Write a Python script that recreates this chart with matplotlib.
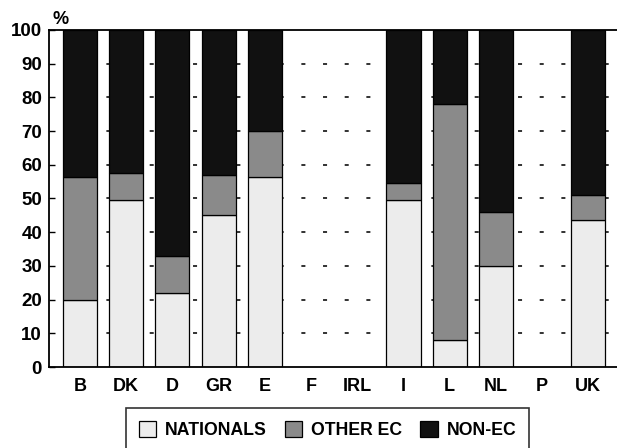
import numpy as np
import matplotlib
matplotlib.use("Agg")
import matplotlib.pyplot as plt
from matplotlib.patches import Patch

plt.rcParams['font.family'] = ['Liberation Sans', 'DejaVu Sans']
plt.rcParams['lines.scale_dashes'] = False

countries = ['B', 'DK', 'D', 'GR', 'E', 'F', 'IRL', 'I', 'L', 'NL', 'P', 'UK']
nationals = [20, 49.5, 22, 45, 56.5, np.nan, np.nan, 49.5, 8, 30, np.nan, 43.5]
other_ec = [36.5, 8, 11, 12, 13.5, np.nan, np.nan, 5, 70, 16, np.nan, 7.5]
yticks = [0, 10, 20, 30, 40, 50, 60, 70, 80, 90, 100]
series_labels = ['NATIONALS', 'OTHER EC', 'NON-EC']

nat = np.array(nationals, dtype=float)
oth = np.array(other_ec, dtype=float)
non = 100 - nat - oth
x = np.arange(len(countries))
valid = ~np.isnan(nat)

W, H = 617, 448
fig = plt.figure(figsize=(W / 100, H / 100), dpi=100)
ax = fig.add_axes([49 / W, 1 - 367 / H, 1 - 49 / W, 337 / H])

c_nat, c_oth, c_non = '#ececec', '#8a8a8a', '#111111'

# dashed gridlines behind bars
for yv in yticks[1:-1]:
    ln, = ax.plot([-0.67, 11.62], [yv, yv], color='#222222', lw=1.3, zorder=1)
    ln.set_linestyle((5.5, (2.9, 12.7)))

bw = 0.74
ax.bar(x[valid], nat[valid], width=bw, color=c_nat, edgecolor='black', lw=0.9, zorder=2)
ax.bar(x[valid], oth[valid], bottom=nat[valid], width=bw, color=c_oth, edgecolor='black', lw=0.9, zorder=2)
ax.bar(x[valid], non[valid], bottom=(nat + oth)[valid], width=bw, color=c_non, edgecolor='black', lw=0.9, zorder=2)

ax.set_xlim(-0.67, 11.62)
ax.set_ylim(0, 100)
ax.set_yticks(yticks)
ax.set_yticklabels([str(v) for v in yticks], fontsize=13.5, fontweight='bold')
ax.set_xticks(x)
ax.set_xticklabels(countries, fontsize=13, fontweight='bold')
ax.tick_params(axis='y', direction='in', length=4, width=1, pad=5)
ax.tick_params(axis='x', length=0, pad=8)
for s in ['left', 'bottom', 'top']:
    ax.spines[s].set_linewidth(1.3)
ax.spines['right'].set_visible(False)

fig.text(61 / W, 1 - 20 / H, '%', fontsize=13, fontweight='bold', ha='center', va='center')

handles = [Patch(facecolor=c_nat, edgecolor='black', lw=0.9),
           Patch(facecolor=c_oth, edgecolor='black', lw=0.9),
           Patch(facecolor=c_non, edgecolor='black', lw=0.9)]
leg = fig.legend(handles, series_labels, loc='upper center', bbox_to_anchor=(327.5 / W, 1 - 408 / H),
                 ncol=3, prop={'size': 12.7, 'weight': 'bold'}, frameon=True, fancybox=False,
                 edgecolor='black', handlelength=1.0, handleheight=1.0, handletextpad=0.5,
                 columnspacing=1.0, borderpad=0.75, borderaxespad=0)
leg.get_frame().set_linewidth(1.2)

fig.savefig('out.png', dpi=100, facecolor='white')
